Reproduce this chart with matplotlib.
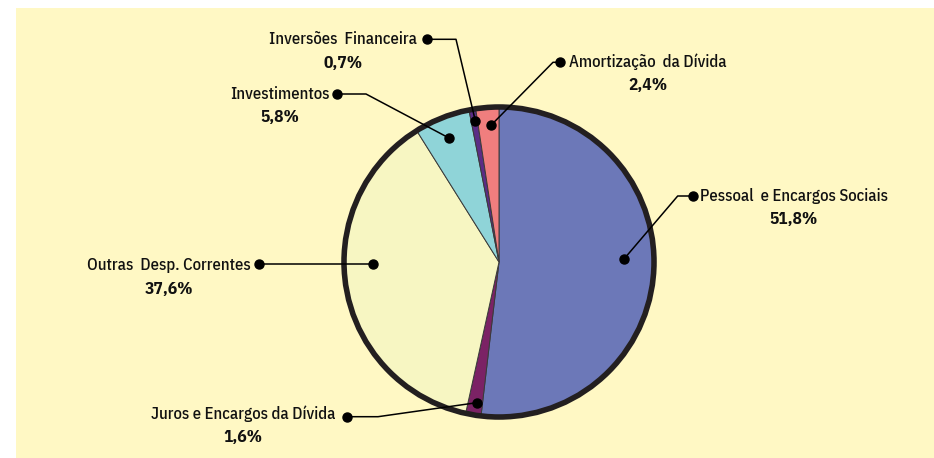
import matplotlib.pyplot as plt
from matplotlib.patches import Rectangle, Circle

# =====================================================
# DATA
# =====================================================

categorias = [
    "Pessoal  e Encargos Sociais",
    "Juros e Encargos da Dívida",
    "Outras  Desp. Correntes",
    "Investimentos",
    "Inversões  Financeira",
    "Amortização  da Dívida",
]

percentuais = [51.8, 1.6, 37.6, 5.8, 0.7, 2.4]

rotulos = ["51,8%", "1,6%", "37,6%", "5,8%", "0,7%", "2,4%"]

cores = [
    "#6C78B8",
    "#7B2265",
    "#F7F6C2",
    "#8FD4D8",
    "#5B2C86",
    "#F07E7E",
]

# =====================================================
# LAYOUT (pixel coords, y down)
# text center x, text y, outer dot (x, y), elbow x, inner dot (x, y)
# =====================================================

layout = [
    (794, 196, (692.7, 196.0), 677.7, (624.0, 259.0)),
    (243, 414, (347.3, 416.7), 378.0, (476.7, 402.7)),
    (169, 265, (259.0, 264.0), 300.0, (372.7, 264.0)),
    (280, 94, (336.7, 94.0), 366.0, (449.0, 138.0)),
    (343, 39, (426.7, 39.3), 456.0, (475.3, 120.7)),
    (648, 62, (560.0, 62.3), 553.0, (491.0, 125.3)),
]

W, H = 934, 458
cx, cy, R = 499, 262, 155

plt.rcParams["font.family"] = ["IBM Plex Sans Condensed", "DejaVu Sans"]

fig = plt.figure(figsize=(W / 100, H / 100), dpi=100)
ax = fig.add_axes([0, 0, 1, 1])

# panel background
ax.add_patch(
    Rectangle((16, 8), W - 16, H - 8, facecolor="#FFF8C4",
              edgecolor="none", zorder=0)
)

# y axis inverted -> startangle -90 is the top, counterclock draws clockwise
wedges, _ = ax.pie(
    percentuais,
    colors=cores,
    startangle=-90,
    counterclock=True,
    center=(cx, cy),
    radius=R,
    wedgeprops=dict(edgecolor="#3a3a3a", linewidth=0.7),
)

ax.add_patch(
    Circle((cx, cy), R, facecolor="none", edgecolor="#231F20",
           linewidth=4, zorder=5)
)

for nome, rot, (tx, ty, (dx, dy), ex, (ix, iy)) in zip(
    categorias, rotulos, layout
):
    ax.plot([dx, ex, ix], [dy, dy, iy], color="black", lw=1.1, zorder=6)
    ax.plot([dx, ix], [dy, iy], "o", color="black", ms=6.5, zorder=7)

    ax.text(tx, ty, nome, ha="center", va="center",
            fontsize=12, fontweight="medium", color="#111111")
    ax.text(tx, ty + 24, rot, ha="center", va="center",
            fontsize=12.5, fontweight="bold", color="#111111")

ax.set_xlim(0, W)
ax.set_ylim(H, 0)
ax.set_aspect("auto")
ax.axis("off")

fig.savefig("out.png", dpi=100)
